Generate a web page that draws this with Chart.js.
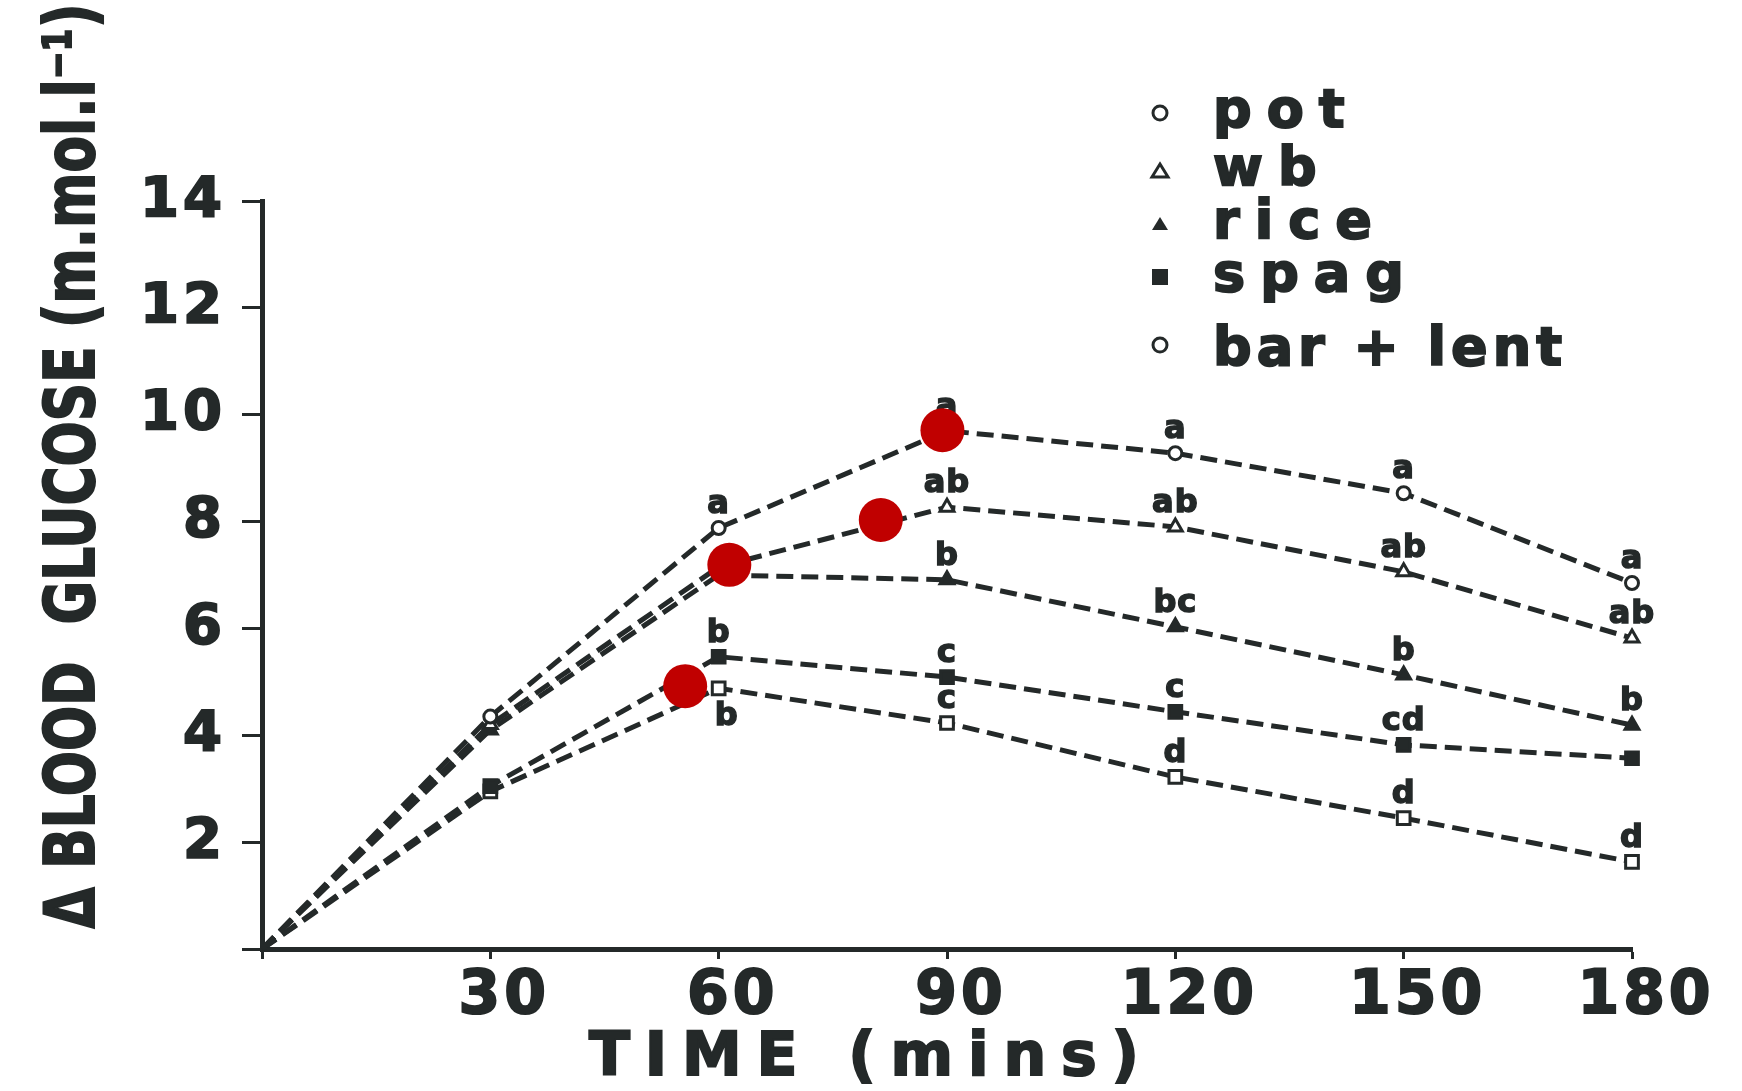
<!DOCTYPE html>
<html>
<head>
<meta charset="utf-8">
<script src="https://cdn.jsdelivr.net/npm/chart.js@4.4.1/dist/chart.umd.min.js"></script>
<style>
html, body { margin: 0; padding: 0; background: #fff; }
canvas { display: block; }
</style>
</head>
<body>
<canvas id="myChart" width="1742" height="1091"></canvas>
<script>
// data
const times = [0, 30, 60, 90, 120, 150, 180];
const seriesNames = ['pot', 'wb', 'rice', 'spag', 'bar + lent'];
const potValues = [0, 4.35, 7.88, 9.7, 9.28, 8.53, 6.85];
const wbValues = [0, 4.2, 7.15, 8.27, 7.9, 7.06, 5.82];
const riceValues = [0, 4.1, 7.0, 6.91, 6.03, 5.13, 4.19];
const spagValues = [0, 3.05, 5.47, 5.09, 4.44, 3.82, 3.57];
const barLentValues = [0, 2.95, 4.88, 4.23, 3.22, 2.45, 1.63];

// significance letters above each point
const potLetters = ['', '', 'a', 'a', 'a', 'a', 'a'];
const wbLetters = ['', '', '', 'ab', 'ab', 'ab', 'ab'];
const riceLetters = ['', '', '', 'b', 'bc', 'b', 'b'];
const spagLetters = ['', '', 'b', 'c', 'c', 'cd', ''];
const barLentLetters = ['', '', 'b', 'c', 'd', 'd', 'd'];

// red marks drawn over the figure
const markTimes = [89.4, 81.3, 61.4, 55.6];
const markValues = [9.71, 8.03, 7.19, 4.92];

const xTickLabels = ['30', '60', '90', '120', '150', '180'];
const yTickLabels = ['2', '4', '6', '8', '10', '12', '14'];

const ink = '#242929';
const FONT = "'DejaVu Sans', sans-serif";

function toPoints(values) {
	return times.map((t, i) => ({x: t, y: values[i]}));
}

function lineSet(label, values, style, filled, radius, letters) {
	return {
		label: label,
		data: toPoints(values),
		letters: letters,
		borderColor: ink,
		borderWidth: 5,
		borderDash: [17, 8],
		tension: 0,
		fill: false,
		clip: false,
		pointStyle: style,
		pointRadius: times.map((t) => t == 0 ? 0 : radius),
		pointBackgroundColor: filled ? ink : '#ffffff',
		pointBorderColor: ink,
		pointBorderWidth: 3
	};
}

// letters next to the points
const letterPlugin = {
	id: 'letters',
	beforeDatasetsDraw(chart) {
		const ctx = chart.ctx;
		const xs = chart.scales.x, ys = chart.scales.y;
		ctx.save();
		ctx.letterSpacing = '1px';
		ctx.font = 'bold 32px ' + FONT;
		ctx.fillStyle = ink;
		ctx.strokeStyle = ink;
		ctx.lineWidth = 1.5;
		ctx.textAlign = 'center';
		ctx.textBaseline = 'alphabetic';
		chart.data.datasets.forEach((ds) => {
			if (!ds.letters) return;
			ds.data.forEach((p, i) => {
				const txt = ds.letters[i];
				if (!txt) return;
				let px = xs.getPixelForValue(p.x);
				let py = ys.getPixelForValue(p.y) - 15;
				// bar + lent at 60 has its letter underneath
				if (ds.label == 'bar + lent' && p.x == 60) {
					px += 8;
					py += 52;
				}
				ctx.fillText(txt, px, py);
				ctx.strokeText(txt, px, py);
			});
		});
		ctx.restore();
	}
};

// legend in the upper right + axis titles
const decorPlugin = {
	id: 'decor',
	beforeDraw(chart) {
		chart.ctx.letterSpacing = '4px';
	},
	afterDraw(chart) {
		const ctx = chart.ctx;
		ctx.save();
		ctx.fillStyle = ink;
		ctx.strokeStyle = ink;

		// y title, squeezed to the length in the scan
		ctx.save();
		ctx.letterSpacing = '0px';
		ctx.font = 'bold 70px ' + FONT;
		const yTitle = '\u0394 BLOOD  GLUCOSE (m.mol.l\u207B\u00B9)';
		const w = ctx.measureText(yTitle).width;
		ctx.translate(94, 466);
		ctx.rotate(-Math.PI / 2);
		ctx.scale(925 / w, 1);
		ctx.textAlign = 'center';
		ctx.textBaseline = 'alphabetic';
		ctx.lineWidth = 2;
		ctx.fillText(yTitle, 0, 0);
		ctx.strokeText(yTitle, 0, 0);
		ctx.restore();

		// x title, spaced out
		ctx.save();
		ctx.font = 'bold 60px ' + FONT;
		const xTitle = 'TIME (mins)';
		ctx.letterSpacing = '0px';
		const w0 = ctx.measureText(xTitle).width;
		const sp = (550 - w0) / (xTitle.length - 1);
		ctx.letterSpacing = sp + 'px';
		ctx.textAlign = 'left';
		ctx.textBaseline = 'alphabetic';
		ctx.lineWidth = 2;
		ctx.fillText(xTitle, 589, 1075);
		ctx.strokeText(xTitle, 589, 1075);
		ctx.restore();

		// legend
		const rowY = [127, 185, 238, 291, 365];
		const symX = 1160, textX = 1213;
		ctx.font = 'bold 54px ' + FONT;
		ctx.textAlign = 'left';
		ctx.textBaseline = 'alphabetic';
		seriesNames.forEach((name, i) => {
			const y = rowY[i];
			const cy = y - (i == 4 ? 20 : 14);
			ctx.lineWidth = 3;
			ctx.beginPath();
			if (i == 0 || i == 4) {
				ctx.arc(symX, cy, 7, 0, Math.PI * 2);
				ctx.stroke();
			} else if (i == 1 || i == 2) {
				ctx.moveTo(symX, cy - 7);
				ctx.lineTo(symX + 8, cy + 6);
				ctx.lineTo(symX - 8, cy + 6);
				ctx.closePath();
				if (i == 2) ctx.fill(); else ctx.stroke();
			} else {
				ctx.rect(symX - 8, cy - 8, 16, 16);
				ctx.fill();
			}
			ctx.letterSpacing = (name.indexOf(' ') >= 0 ? 5 : 15) + 'px';
			ctx.lineWidth = 2;
			ctx.fillText(name, textX, y);
			ctx.strokeText(name, textX, y);
		});
		ctx.restore();
	}
};

const ctx = document.getElementById('myChart').getContext('2d');
const chart = new Chart(ctx, {
	type: 'line',
	data: {
		datasets: [
			{
				label: 'marks',
				type: 'scatter',
				data: markTimes.map((t, i) => ({x: t, y: markValues[i]})),
				pointRadius: 22,
				pointBackgroundColor: '#c00000',
				pointBorderWidth: 0,
				showLine: false,
				clip: false,
				order: -1
			},
			lineSet('pot', potValues, 'circle', false, 6.5, potLetters),
			lineSet('wb', wbValues, 'triangle', false, 8, wbLetters),
			lineSet('rice', riceValues, 'triangle', true, 8, riceLetters),
			lineSet('spag', spagValues, 'rect', true, 9, spagLetters),
			lineSet('bar + lent', barLentValues, 'rect', false, 9, barLentLetters)
		]
	},
	options: {
		responsive: false,
		animation: false,
		devicePixelRatio: 1,
		layout: {padding: {top: 201, right: 110, bottom: 0, left: 0}},
		plugins: {legend: {display: false}, tooltip: {enabled: false}},
		scales: {
			x: {
				type: 'linear',
				min: 0,
				max: 180,
				afterFit: (s) => { s.height = 142; },
				border: {display: true, color: ink, width: 5},
				grid: {display: true, drawOnChartArea: false, drawTicks: true, tickLength: 10, tickWidth: 3, tickColor: ink},
				ticks: {
					stepSize: 30,
					autoSkip: false,
					maxRotation: 0,
					padding: 2,
					labelOffset: 14,
					color: ink,
					textStrokeColor: ink,
					textStrokeWidth: 2,
					font: {family: FONT, weight: 'bold', size: 60},
					callback: (v) => xTickLabels.includes(String(v)) ? String(v) : ''
				}
			},
			y: {
				min: 0,
				max: 14,
				afterFit: (s) => { s.width = 262; },
				border: {display: true, color: ink, width: 5},
				grid: {display: true, drawOnChartArea: false, drawTicks: true, tickLength: 20, tickWidth: 3, tickColor: ink},
				ticks: {
					stepSize: 2,
					padding: 16,
					color: ink,
					textStrokeColor: ink,
					textStrokeWidth: 2,
					font: {family: FONT, weight: 'bold', size: 56},
					callback: (v) => yTickLabels.includes(String(v)) ? String(v) : ''
				}
			}
		}
	},
	plugins: [letterPlugin, decorPlugin]
});
</script>
</body>
</html>
